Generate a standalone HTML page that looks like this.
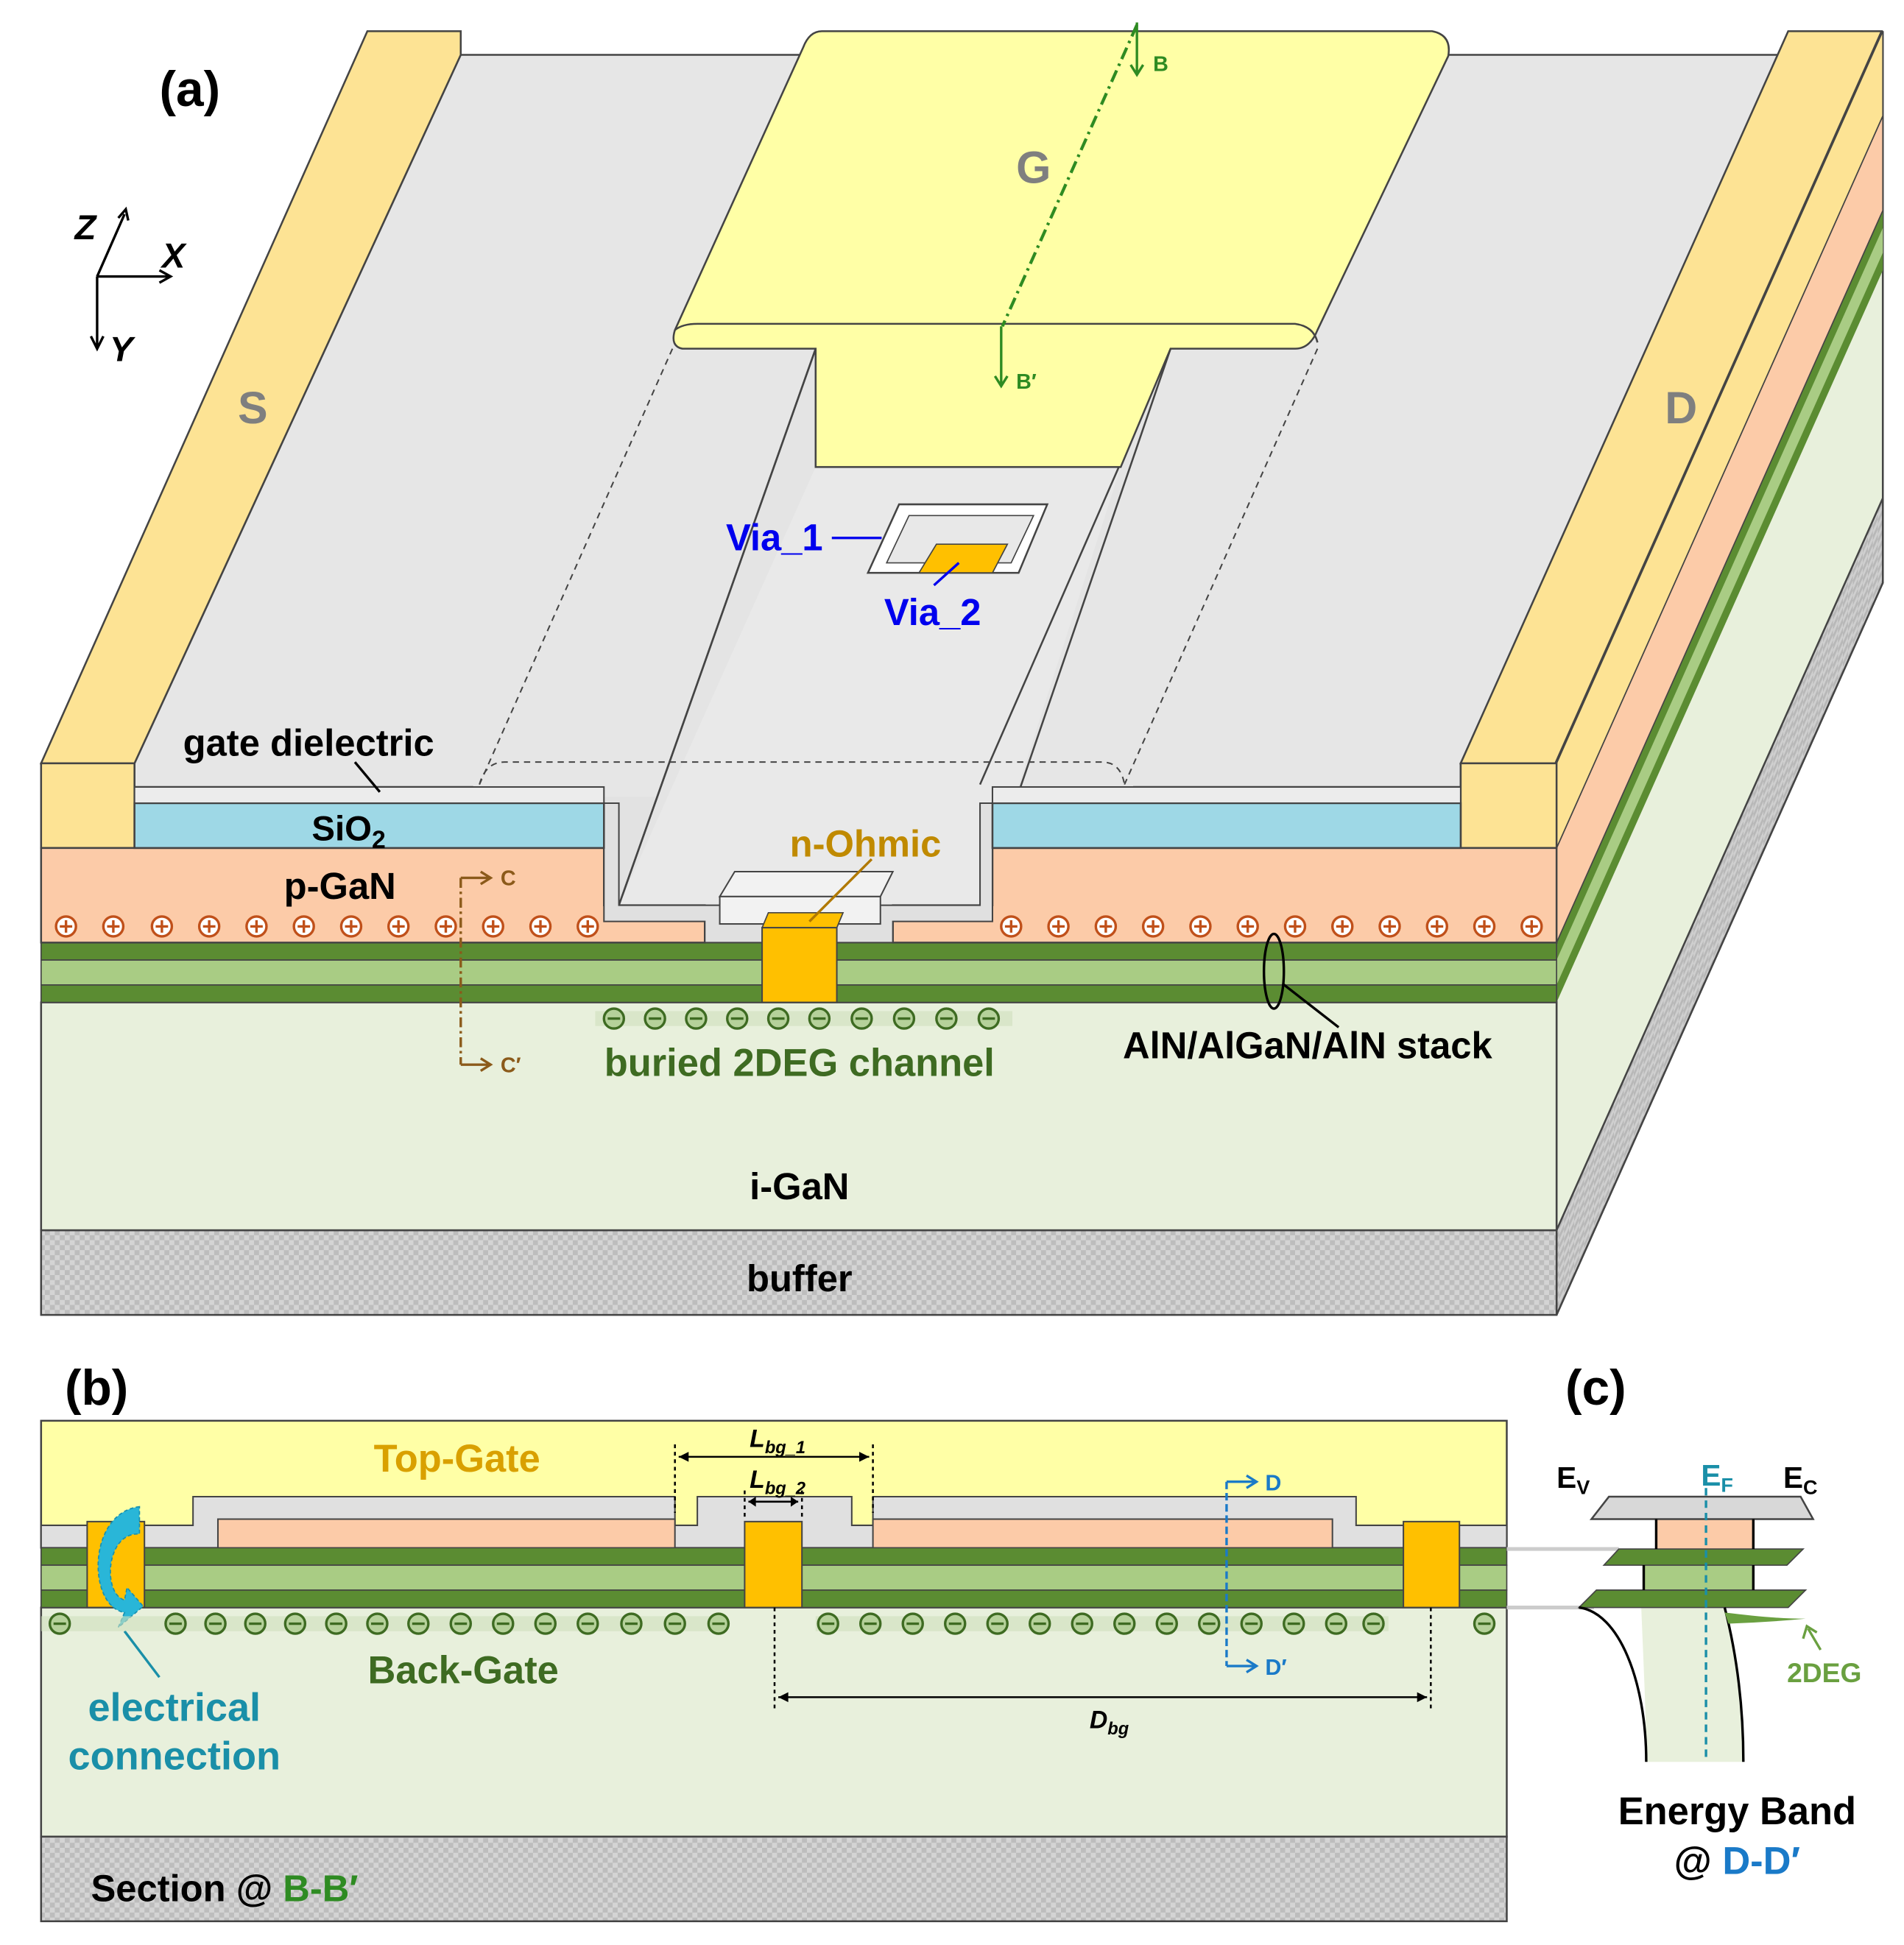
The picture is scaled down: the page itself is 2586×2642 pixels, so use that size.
<!DOCTYPE html>
<html><head><meta charset="utf-8"><style>
html,body{margin:0;padding:0;background:#fff}
svg{display:block}
text{font-family:"Liberation Sans","DejaVu Sans",sans-serif;font-weight:bold}
</style></head><body>
<svg width="2586" height="2642" viewBox="0 0 1529 1562" xmlns="http://www.w3.org/2000/svg">
<defs>
<pattern id="chk" width="8" height="8" patternUnits="userSpaceOnUse">
<rect width="8" height="8" fill="#d4d4d4"/><rect width="4" height="4" fill="#bdbdbd"/><rect x="4" y="4" width="4" height="4" fill="#bdbdbd"/>
</pattern>
<pattern id="chk2" width="8" height="8" patternUnits="userSpaceOnUse" patternTransform="skewY(-66)">
<rect width="8" height="8" fill="#cfcfcf"/><rect width="4" height="4" fill="#b8b8b8"/><rect x="4" y="4" width="4" height="4" fill="#b8b8b8"/>
</pattern>
<g id="plus"><circle r="8" fill="#fff" stroke="#c0501a" stroke-width="2"/><path d="M-5 0H5M0 -5V5" stroke="#c0501a" stroke-width="2"/></g>
<g id="minus"><circle r="8" fill="#b5d19a" stroke="#3e6b22" stroke-width="2"/><path d="M-5 0H5" stroke="#3e6b22" stroke-width="2"/></g>
</defs>

<!-- ===== (a) ===== -->
<polygon points="108,632 108,613 370,44 1430,44 1173,613 1173,632" fill="#e6e6e6" stroke="#444" stroke-width="1.5"/>
<polygon points="1250,613 1512,25 1512,468 1250,1056" fill="#e8f0dc" stroke="#444" stroke-width="1.5"/>
<polygon points="1250,988 1512,400 1512,468 1250,1056" fill="url(#chk2)" stroke="#444" stroke-width="1.5"/>
<polygon points="1250,757 1512,169 1512,217 1250,805" fill="#5b8c32"/>
<polygon points="1250,771 1512,183 1512,203 1250,791" fill="#a9cc84"/>
<polygon points="1250,681 1512,93 1512,169 1250,757" fill="#fccba8" stroke="#444" stroke-width="1"/>
<polygon points="1250,613 1512,25 1512,93 1250,681" fill="#fde394" stroke="#444" stroke-width="1"/>

<polygon points="33,613 108,613 370,44 370,25 295,25" fill="#fde394" stroke="#444" stroke-width="1.5"/>
<line x1="108" y1="613" x2="370" y2="44" stroke="#444" stroke-width="1"/>
<polygon points="33,613 108,613 108,681 33,681" fill="#fde394" stroke="#444" stroke-width="1.5"/>
<polygon points="1173,613 1249,613 1511,25 1436,25" fill="#fde394" stroke="#444" stroke-width="1.5"/>
<polygon points="1173,613 1250,613 1250,681 1173,681" fill="#fde394" stroke="#444" stroke-width="1.5"/>

<!-- trench region -->
<polygon points="540,280 1058,280 903,630 385,630" fill="#e6e6e6"/>
<rect x="380" y="625" width="530" height="25" fill="#e6e6e6"/>
<rect x="485" y="640" width="312" height="90" fill="#e2e2e2"/>
<polygon points="655,280 940,280 787,727 497,727" fill="#e4e4e4" stroke="#444" stroke-width="1.5"/>
<polygon points="655,375 900,375 787,727 497,727" fill="#e9e9e9"/>
<line x1="655" y1="280" x2="497" y2="727" stroke="#444" stroke-width="1.5"/>
<line x1="940" y1="280" x2="787" y2="630" stroke="#444" stroke-width="1.5"/>
<line x1="540" y1="280" x2="385" y2="630" stroke="#444" stroke-width="1.2" stroke-dasharray="5,4"/>
<line x1="1058" y1="280" x2="903" y2="630" stroke="#444" stroke-width="1.2" stroke-dasharray="5,4"/>
<path d="M385,630 Q390,612 405,612 L885,612 Q900,612 903,630" fill="none" stroke="#444" stroke-width="1.2" stroke-dasharray="5,4"/>

<path d="M660,25 L1150,25 Q1166,28 1163,45 L1058,265 Q1052,280 1040,280 L940,280 L900,375 L655,375 L655,280 L548,280 Q538,278 542,265 L645,38 Q650,25 660,25 Z" fill="#ffffa6" stroke="#444" stroke-width="1.5"/>
<path d="M542,265 Q548,260 560,260 L1040,260 Q1055,262 1058,275" fill="none" stroke="#444" stroke-width="1.5"/>
<text x="830" y="147" font-size="36" fill="#7f7f7f" text-anchor="middle">G</text>
<line x1="913" y1="20" x2="805" y2="262" stroke="#2e8b22" stroke-width="2.5" stroke-dasharray="10,4,2,4"/>
<path d="M913,18 V58 M908,52 L913,60 L918,52" stroke="#2e8b22" stroke-width="2" fill="none"/>
<text x="926" y="57" font-size="17" fill="#2e8b22">B</text>
<path d="M804,262 V308 M799,302 L804,310 L809,302" stroke="#2e8b22" stroke-width="2" fill="none"/>
<text x="816" y="312" font-size="17" fill="#2e8b22">B′</text>

<polygon points="722,405 841,405 818,460 697,460" fill="#fff" stroke="#444" stroke-width="1.5"/>
<polygon points="730,414 830,414 812,452 712,452" fill="#e8e8e8" stroke="#444" stroke-width="1"/>
<polygon points="752,437 809,437 797,460 738,460" fill="#ffc000" stroke="#444" stroke-width="1"/>
<text x="583" y="442" font-size="30" fill="#0000ee">Via_1</text>
<line x1="668" y1="432" x2="708" y2="432" stroke="#0000ee" stroke-width="2"/>
<text x="710" y="502" font-size="30" fill="#0000ee">Via_2</text>
<line x1="750" y1="470" x2="770" y2="452" stroke="#0000ee" stroke-width="2"/>

<rect x="33" y="988" width="1217" height="68" fill="url(#chk)" stroke="#444" stroke-width="1.5"/>
<rect x="33" y="805" width="1217" height="183" fill="#e8f0dc" stroke="#444" stroke-width="1.5"/>
<rect x="33" y="757" width="1217" height="14" fill="#5b8c32" stroke="#444" stroke-width="1"/>
<rect x="33" y="771" width="1217" height="20" fill="#a9cc84" stroke="#444" stroke-width="1"/>
<rect x="33" y="791" width="1217" height="14" fill="#5b8c32" stroke="#444" stroke-width="1"/>
<path d="M33,681 H485 V727 H566 V757 H33 Z" fill="#fccba8" stroke="#444" stroke-width="1.5"/>
<path d="M797,681 H1250 V757 H717 V727 H797 Z" fill="#fccba8" stroke="#444" stroke-width="1.5"/>
<path d="M485,645 V740 H566 V757 H717 V740 H797 V645 H787 V727 H497 V645 Z" fill="#e0e0e0" stroke="#444" stroke-width="1.2"/>
<rect x="108" y="645" width="377" height="36" fill="#9ed8e6" stroke="#444" stroke-width="1.5"/>
<rect x="797" y="645" width="376" height="36" fill="#9ed8e6" stroke="#444" stroke-width="1.5"/>
<rect x="108" y="632" width="377" height="13" fill="#ececec" stroke="#444" stroke-width="1.2"/>
<rect x="797" y="632" width="376" height="13" fill="#ececec" stroke="#444" stroke-width="1.2"/>
<polygon points="590,700 717,700 707,720 578,720" fill="#f2f2f2" stroke="#444" stroke-width="1.2"/>
<rect x="578" y="720" width="129" height="22" fill="#f2f2f2" stroke="#444" stroke-width="1.2"/>
<polygon points="617,733 677,733 672,745 612,745" fill="#ffc000" stroke="#444" stroke-width="1"/>
<rect x="612" y="745" width="60" height="60" fill="#ffc000" stroke="#444" stroke-width="1.2"/>
<line x1="650" y1="740" x2="700" y2="690" stroke="#b07800" stroke-width="2"/>
<text x="695" y="688" font-size="30" fill="#c08a00" text-anchor="middle">n-Ohmic</text>

<g>
<use href="#plus" x="53" y="744"/><use href="#plus" x="91" y="744"/><use href="#plus" x="130" y="744"/><use href="#plus" x="168" y="744"/><use href="#plus" x="206" y="744"/><use href="#plus" x="244" y="744"/><use href="#plus" x="282" y="744"/><use href="#plus" x="320" y="744"/><use href="#plus" x="358" y="744"/><use href="#plus" x="396" y="744"/><use href="#plus" x="434" y="744"/><use href="#plus" x="472" y="744"/>
<use href="#plus" x="812" y="744"/><use href="#plus" x="850" y="744"/><use href="#plus" x="888" y="744"/><use href="#plus" x="926" y="744"/><use href="#plus" x="964" y="744"/><use href="#plus" x="1002" y="744"/><use href="#plus" x="1040" y="744"/><use href="#plus" x="1078" y="744"/><use href="#plus" x="1116" y="744"/><use href="#plus" x="1154" y="744"/><use href="#plus" x="1192" y="744"/><use href="#plus" x="1230" y="744"/>
</g>
<rect x="478" y="812" width="335" height="12" fill="#cfe0bd" opacity="0.6"/>
<g>
<use href="#minus" x="493" y="818"/><use href="#minus" x="526" y="818"/><use href="#minus" x="559" y="818"/><use href="#minus" x="592" y="818"/><use href="#minus" x="625" y="818"/><use href="#minus" x="658" y="818"/><use href="#minus" x="692" y="818"/><use href="#minus" x="726" y="818"/><use href="#minus" x="760" y="818"/><use href="#minus" x="794" y="818"/>
</g>

<line x1="370" y1="705" x2="370" y2="855" stroke="#8b5a1a" stroke-width="2" stroke-dasharray="8,3,2,3"/>
<path d="M370,705 H392 M386,700 L394,705 L386,710" stroke="#8b5a1a" stroke-width="2" fill="none"/>
<text x="402" y="711" font-size="17" fill="#8b5a1a">C</text>
<path d="M370,855 H392 M386,850 L394,855 L386,860" stroke="#8b5a1a" stroke-width="2" fill="none"/>
<text x="402" y="861" font-size="17" fill="#8b5a1a">C′</text>

<ellipse cx="1023" cy="780" rx="8" ry="30" fill="none" stroke="#000" stroke-width="2"/>
<line x1="1030" y1="790" x2="1075" y2="825" stroke="#000" stroke-width="2"/>

<text x="128" y="85" font-size="40" fill="#000">(a)</text>
<text x="203" y="340" font-size="36" fill="#7f7f7f" text-anchor="middle">S</text>
<text x="1350" y="340" font-size="36" fill="#7f7f7f" text-anchor="middle">D</text>
<text x="147" y="607" font-size="30" fill="#000">gate dielectric</text>
<line x1="285" y1="612" x2="305" y2="636" stroke="#000" stroke-width="2"/>
<text x="280" y="675" font-size="28" fill="#000" text-anchor="middle">SiO<tspan font-size="20" dy="6">2</tspan></text>
<text x="273" y="722" font-size="30" fill="#000" text-anchor="middle">p-GaN</text>
<text x="642" y="864" font-size="31" fill="#3e6b22" text-anchor="middle">buried 2DEG channel</text>
<text x="1050" y="850" font-size="30" fill="#000" text-anchor="middle">AlN/AlGaN/AlN stack</text>
<text x="642" y="963" font-size="30" fill="#000" text-anchor="middle">i-GaN</text>
<text x="642" y="1037" font-size="30" fill="#000" text-anchor="middle">buffer</text>

<g stroke="#000" stroke-width="2" fill="none">
<path d="M78,222 L100,172 M95,175 L101,168 L103,177"/>
<path d="M78,222 H135 M128,217 L137,222 L128,227"/>
<path d="M78,222 V278 M73,270 L78,280 L83,270"/>
</g>
<text x="60" y="192" font-size="28" font-style="italic" fill="#000">Z</text>
<text x="130" y="215" font-size="28" font-style="italic" fill="#000">X</text>
<text x="88" y="290" font-size="28" font-style="italic" fill="#000">Y</text>

<!-- ===== (b) ===== -->
<text x="52" y="1128" font-size="40" fill="#000">(b)</text>
<rect x="33" y="1475" width="1177" height="68" fill="url(#chk)" stroke="#444" stroke-width="1.5"/>
<rect x="33" y="1291" width="1177" height="184" fill="#e8f0dc" stroke="#444" stroke-width="1.5"/>
<rect x="33" y="1141" width="1177" height="102" fill="#ffffa6" stroke="#444" stroke-width="1.5"/>
<path d="M33,1225 H155 V1202 H542 V1225 H560 V1202 H684 V1225 H701 V1202 H1089 V1225 H1210 V1243 H33 Z" fill="#e0e0e0" stroke="#444" stroke-width="1.2"/>
<path d="M175,1243 V1220 H542 V1243 M701,1243 V1220 H1070 V1243" fill="#fccba8" stroke="#444" stroke-width="1.2"/>
<rect x="33" y="1243" width="1177" height="14" fill="#5b8c32" stroke="#444" stroke-width="1"/>
<rect x="33" y="1257" width="1177" height="20" fill="#a9cc84" stroke="#444" stroke-width="1"/>
<rect x="33" y="1277" width="1177" height="14" fill="#5b8c32" stroke="#444" stroke-width="1"/>
<rect x="70" y="1222" width="46" height="69" fill="#ffc000" stroke="#444" stroke-width="1.2"/>
<rect x="598" y="1222" width="46" height="69" fill="#ffc000" stroke="#444" stroke-width="1.2"/>
<rect x="1127" y="1222" width="45" height="69" fill="#ffc000" stroke="#444" stroke-width="1.2"/>
<path d="M112,1210 C70,1215 70,1290 100,1295 L95,1307 L115,1290 L102,1275 L100,1285 C82,1280 85,1230 112,1232 Z" fill="#29b6d8" stroke="#1890b0" stroke-width="1" stroke-dasharray="3,2"/>
<line x1="100" y1="1310" x2="128" y2="1347" stroke="#1a8fa8" stroke-width="2"/>
<text x="140" y="1382" font-size="32" fill="#1a8fa8" text-anchor="middle">electrical</text>
<text x="140" y="1421" font-size="32" fill="#1a8fa8" text-anchor="middle">connection</text>
<rect x="33" y="1298" width="550" height="12" fill="#cfe0bd" opacity="0.6"/>
<rect x="655" y="1298" width="460" height="12" fill="#cfe0bd" opacity="0.6"/>
<g>
<use href="#minus" x="48" y="1304"/><use href="#minus" x="141" y="1304"/><use href="#minus" x="173" y="1304"/><use href="#minus" x="205" y="1304"/><use href="#minus" x="237" y="1304"/><use href="#minus" x="270" y="1304"/><use href="#minus" x="303" y="1304"/><use href="#minus" x="336" y="1304"/><use href="#minus" x="370" y="1304"/><use href="#minus" x="404" y="1304"/><use href="#minus" x="438" y="1304"/><use href="#minus" x="472" y="1304"/><use href="#minus" x="507" y="1304"/><use href="#minus" x="542" y="1304"/><use href="#minus" x="577" y="1304"/>
<use href="#minus" x="665" y="1304"/><use href="#minus" x="699" y="1304"/><use href="#minus" x="733" y="1304"/><use href="#minus" x="767" y="1304"/><use href="#minus" x="801" y="1304"/><use href="#minus" x="835" y="1304"/><use href="#minus" x="869" y="1304"/><use href="#minus" x="903" y="1304"/><use href="#minus" x="937" y="1304"/><use href="#minus" x="971" y="1304"/><use href="#minus" x="1005" y="1304"/><use href="#minus" x="1039" y="1304"/><use href="#minus" x="1073" y="1304"/><use href="#minus" x="1103" y="1304"/><use href="#minus" x="1192" y="1304"/>
</g>
<text x="367" y="1182" font-size="31" fill="#d9a000" text-anchor="middle">Top-Gate</text>
<text x="372" y="1352" font-size="31" fill="#3e6b22" text-anchor="middle">Back-Gate</text>
<text x="73" y="1527" font-size="30" fill="#000">Section @ <tspan fill="#2e8b22">B-B′</tspan></text>
<g stroke="#000" stroke-width="1.5">
<line x1="542" y1="1160" x2="542" y2="1215" stroke-dasharray="3,3"/>
<line x1="701" y1="1160" x2="701" y2="1215" stroke-dasharray="3,3"/>
<line x1="598" y1="1197" x2="598" y2="1220" stroke-dasharray="3,3"/>
<line x1="644" y1="1197" x2="644" y2="1220" stroke-dasharray="3,3"/>
<line x1="545" y1="1170" x2="698" y2="1170"/>
<line x1="601" y1="1206" x2="641" y2="1206"/>
<line x1="622" y1="1291" x2="622" y2="1372" stroke-dasharray="3,3"/>
<line x1="1149" y1="1291" x2="1149" y2="1372" stroke-dasharray="3,3"/>
<line x1="625" y1="1363" x2="1146" y2="1363"/>
</g>
<g fill="#000">
<polygon points="545,1170 553,1166 553,1174"/><polygon points="698,1170 690,1166 690,1174"/>
<polygon points="601,1206 607,1202 607,1210"/><polygon points="641,1206 635,1202 635,1210"/>
<polygon points="625,1363 633,1359 633,1367"/><polygon points="1146,1363 1138,1359 1138,1367"/>
</g>
<text x="602" y="1162" font-size="20" font-style="italic" fill="#000">L<tspan font-size="14" dy="5">bg_1</tspan></text>
<text x="602" y="1195" font-size="20" font-style="italic" fill="#000">L<tspan font-size="14" dy="5">bg_2</tspan></text>
<text x="875" y="1388" font-size="20" font-style="italic" fill="#000">D<tspan font-size="14" dy="5">bg</tspan></text>
<line x1="985" y1="1190" x2="985" y2="1338" stroke="#1a7ac8" stroke-width="2" stroke-dasharray="6,3"/>
<path d="M985,1190 H1007 M1001,1185 L1009,1190 L1001,1195" stroke="#1a7ac8" stroke-width="2" fill="none"/>
<text x="1016" y="1197" font-size="18" fill="#1a7ac8">D</text>
<path d="M985,1338 H1007 M1001,1333 L1009,1338 L1001,1343" stroke="#1a7ac8" stroke-width="2" fill="none"/>
<text x="1016" y="1345" font-size="18" fill="#1a7ac8">D′</text>

<!-- ===== (c) ===== -->
<text x="1257" y="1128" font-size="40" fill="#000">(c)</text>
<line x1="1210" y1="1244" x2="1300" y2="1244" stroke="#ccc" stroke-width="3"/>
<line x1="1210" y1="1291" x2="1280" y2="1291" stroke="#ccc" stroke-width="3"/>
<rect x="1330" y="1220" width="78" height="24" fill="#fccba8"/>
<rect x="1320" y="1257" width="88" height="20" fill="#a9cc84"/>
<path d="M1318,1291 C1320,1340 1322,1380 1322,1415 L1400,1415 C1400,1380 1395,1330 1385,1291 Z" fill="#e8f0dc"/>
<polygon points="1278,1220 1292,1202 1446,1202 1456,1220" fill="#d8d8d8" stroke="#444" stroke-width="1.5"/>
<polygon points="1288,1257 1300,1244 1448,1244 1435,1257" fill="#5b8c32" stroke="#444" stroke-width="1"/>
<polygon points="1268,1291 1282,1277 1450,1277 1436,1291" fill="#5b8c32" stroke="#444" stroke-width="1"/>
<path d="M1330,1220 V1244 M1408,1220 V1244 M1320,1257 V1277 M1408,1257 V1277" stroke="#000" stroke-width="2" fill="none"/>
<path d="M1268,1291 C1300,1295 1322,1350 1322,1415 M1385,1291 C1395,1330 1400,1370 1400,1415" stroke="#000" stroke-width="2" fill="none"/>
<path d="M1385,1295 C1410,1298 1430,1300 1450,1300 C1430,1302 1410,1303 1388,1304 Z" fill="#6aa040"/>
<line x1="1370" y1="1195" x2="1370" y2="1415" stroke="#1a8fa8" stroke-width="2" stroke-dasharray="6,4"/>
<text x="1250" y="1195" font-size="24" fill="#000">E<tspan font-size="16" dy="5">V</tspan></text>
<text x="1366" y="1193" font-size="24" fill="#1a8fa8">E<tspan font-size="16" dy="5">F</tspan></text>
<text x="1432" y="1195" font-size="24" fill="#000">E<tspan font-size="16" dy="5">C</tspan></text>
<path d="M1462,1325 L1452,1308 M1448,1316 L1451,1306 L1459,1311" stroke="#6aa040" stroke-width="2" fill="none"/>
<text x="1465" y="1351" font-size="22" fill="#6aa040" text-anchor="middle">2DEG</text>
<text x="1395" y="1465" font-size="31" fill="#000" text-anchor="middle">Energy Band</text>
<text x="1395" y="1505" font-size="31" fill="#000" text-anchor="middle">@ <tspan fill="#1a7ac8">D-D′</tspan></text>
</svg>
</body></html>
